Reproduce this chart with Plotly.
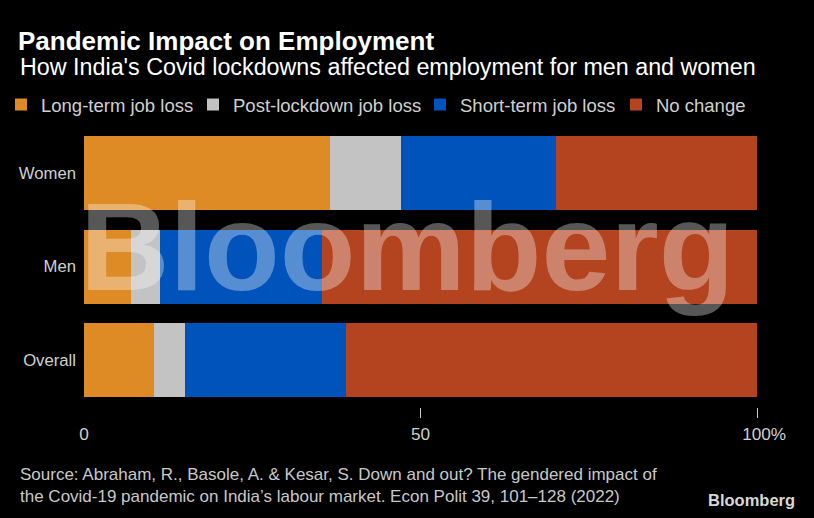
import plotly.graph_objects as go

categories = ["Overall", "Men", "Women"]
series_names = ["Long-term job loss", "Post-lockdown job loss", "Short-term job loss", "No change"]
long_term = [10.4, 7.0, 36.6]
post_lockdown = [4.6, 4.3, 10.5]
short_term = [23.9, 24.1, 23.0]
no_change = [61.1, 64.6, 29.9]
colors = ["#DE8B26", "#C3C3C3", "#0053BA", "#B4431F"]
tick_vals = [0, 50, 100]
tick_text = ["0", "50", "\u00a0\u00a0\u00a0100%"]
tick_mark_vals = [50, 100]

W, H = 814, 518
L, R, T, B = 84, 757, 126, 407
def px(x): return (x - L) / (R - L)
def py(y): return (B - y) / (B - T)

FONT = "Liberation Sans, Arial, sans-serif"
legend_text_x = [38, 230, 457, 653]
legend_keys = ["legend", "legend2", "legend3", "legend4"]

fig = go.Figure()
for name, vals, col, lg in zip(series_names, [long_term, post_lockdown, short_term, no_change], colors, legend_keys):
    fig.add_trace(go.Bar(y=categories, x=vals, name=name, orientation="h", legend=lg,
                         marker=dict(color=col, line=dict(width=0)), hoverinfo="x+name"))
# empty helper trace so the tick-mark axis (x2) is drawn
fig.add_trace(go.Scatter(x=[], y=[], xaxis="x2", yaxis="y", showlegend=False, hoverinfo="skip"))

legends = {}
for lg, tx in zip(legend_keys, legend_text_x):
    legends[lg] = dict(orientation="h", xref="container", yref="container", x=(tx - 37) / W,
                       y=1 - 105 / H, xanchor="left", yanchor="middle",
                       font=dict(family=FONT, size=18.5, color="#d0d0d0"),
                       itemwidth=30, bgcolor="rgba(0,0,0,0)", borderwidth=0)

fig.update_layout(
    width=W, height=H, barmode="stack", bargap=0.21,
    paper_bgcolor="black", plot_bgcolor="black",
    margin=dict(l=L, r=W - R, t=T, b=H - B, pad=0, autoexpand=False),
    font=dict(family=FONT, color="#d0d0d0", size=17),
    title=dict(text="<b>Pandemic Impact on Employment</b>", xref="container", yref="container",
               x=18 / W, y=1 - 41 / H, xanchor="left", yanchor="middle",
               font=dict(family=FONT, size=26, color="white")),
    xaxis=dict(range=[0, 100], tickvals=tick_vals, ticktext=tick_text, ticks="",
               showgrid=False, zeroline=False, showline=False,
               tickfont=dict(size=17.2, color="#d0d0d0"), ticklabelstandoff=15),
    xaxis2=dict(overlaying="x", anchor="y", side="bottom", range=[0, 100], tickvals=tick_mark_vals,
                ticks="outside", ticklen=10, tickwidth=1, tickcolor="#cccccc",
                showticklabels=False, showgrid=False, zeroline=False, showline=False),
    yaxis=dict(showgrid=False, zeroline=False, showline=False, ticks="",
               tickfont=dict(size=16.7, color="#d0d0d0"), ticklabelstandoff=7),
    showlegend=True,
    **legends,
)

fig.add_annotation(text="How India's Covid lockdowns affected employment for men and women",
                   xref="paper", yref="paper", x=px(18), y=py(67), xanchor="left", yanchor="middle",
                   showarrow=False, font=dict(family=FONT, size=23.3, color="white"))
fig.add_annotation(text="Source: Abraham, R., Basole, A. & Kesar, S. Down and out? The gendered impact of<br>"
                        "the Covid-19 pandemic on India’s labour market. Econ Polit 39, 101–128 (2022)",
                   xref="paper", yref="paper", x=px(18), y=py(485), xanchor="left", yanchor="middle",
                   align="left", showarrow=False, font=dict(family=FONT, size=17, color="#c8c8c8"))
fig.add_annotation(text="<b>Bloomberg</b>", xref="paper", yref="paper", x=px(797), y=py(500),
                   xanchor="right", yanchor="middle", showarrow=False,
                   font=dict(family=FONT, size=16.5, color="#d8d8d8"))
fig.add_annotation(text="<b>Bloomberg</b>", xref="paper", yref="paper", x=px(407), y=py(247),
                   xanchor="center", yanchor="middle", showarrow=False,
                   font=dict(family=FONT, size=124, color="rgba(255,255,255,0.34)"))

fig.write_html("out.html", config={"displayModeBar": False},
               post_script="document.body.style.margin='0';document.body.style.padding='0';"
                           "document.body.style.background='black';")
